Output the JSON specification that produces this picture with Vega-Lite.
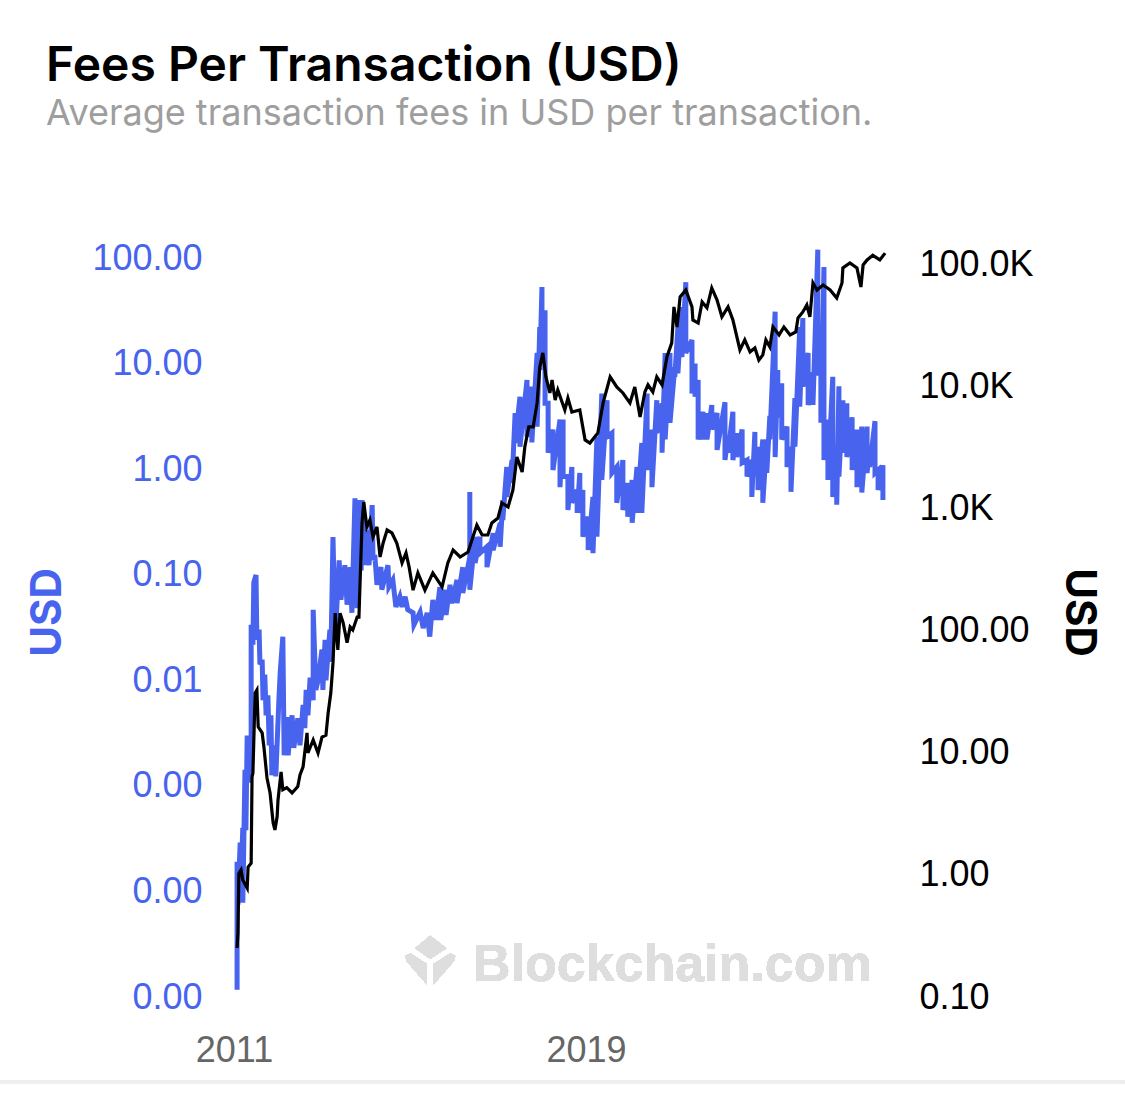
{"$schema":"https://vega.github.io/schema/vega-lite/v6.json","autosize":{"type":"none"},"padding":{"left":234,"top":248,"right":239,"bottom":116},"width":652,"height":749,"background":"white","view":{"stroke":null},
"title":{"text":"Fees Per Transaction (USD)","subtitle":"Average transaction fees in USD per transaction.","anchor":"start","frame":"group","dx":-188,"offset":108,"font":"Inter","fontSize":48,"fontWeight":600,"color":"#000000","subtitleFont":"Inter","subtitleFontSize":36,"subtitleColor":"#9e9e9e","subtitleFontWeight":400,"subtitlePadding":6},
"datasets":{
"fees":[{"year":2011.07,"usd":1.17e-5},{"year":2011.07,"usd":1.91e-4},{"year":2011.09,"usd":7.5e-5},{"year":2011.14,"usd":2.9e-4},{"year":2011.16,"usd":1.28e-4},{"year":2011.20,"usd":4.0e-4},{"year":2011.20,"usd":7.8e-5},{"year":2011.25,"usd":1.42e-3},{"year":2011.27,"usd":3.8e-4},{"year":2011.30,"usd":3.0e-3},{"year":2011.34,"usd":1.07e-3},{"year":2011.39,"usd":3.0e-3},{"year":2011.39,"usd":0.0336},{"year":2011.43,"usd":0.0217},{"year":2011.45,"usd":0.084},{"year":2011.50,"usd":0.0995},{"year":2011.52,"usd":0.0242},{"year":2011.57,"usd":0.0302},{"year":2011.59,"usd":0.0141},{"year":2011.64,"usd":0.0157},{"year":2011.66,"usd":0.00647},{"year":2011.70,"usd":0.0113},{"year":2011.73,"usd":0.00466},{"year":2011.77,"usd":0.00721},{"year":2011.80,"usd":0.00242},{"year":2011.84,"usd":0.00466},{"year":2011.86,"usd":0.00126},{"year":2011.91,"usd":0.00242},{"year":2011.95,"usd":0.00123},{"year":2012.02,"usd":0.00647},{"year":2012.05,"usd":0.0118},{"year":2012.11,"usd":0.0259},{"year":2012.14,"usd":0.00195},{"year":2012.20,"usd":0.00447},{"year":2012.23,"usd":0.00195},{"year":2012.32,"usd":0.00466},{"year":2012.36,"usd":0.00229},{"year":2012.45,"usd":0.00437},{"year":2012.50,"usd":0.00242},{"year":2012.57,"usd":0.00584},{"year":2012.61,"usd":0.00352},{"year":2012.64,"usd":0.00812},{"year":2012.68,"usd":0.00466},{"year":2012.73,"usd":0.0106},{"year":2012.80,"usd":0.00647},{"year":2012.80,"usd":0.0466},{"year":2012.86,"usd":0.00812},{"year":2012.91,"usd":0.01},{"year":2013.00,"usd":0.0195},{"year":2013.02,"usd":0.00812},{"year":2013.07,"usd":0.0242},{"year":2013.09,"usd":0.01},{"year":2013.18,"usd":0.0302},{"year":2013.20,"usd":0.0149},{"year":2013.25,"usd":0.227},{"year":2013.30,"usd":0.0242},{"year":2013.39,"usd":0.137},{"year":2013.43,"usd":0.058},{"year":2013.52,"usd":0.123},{"year":2013.57,"usd":0.052},{"year":2013.64,"usd":0.118},{"year":2013.68,"usd":0.0436},{"year":2013.75,"usd":0.53},{"year":2013.80,"usd":0.0483},{"year":2013.86,"usd":0.51},{"year":2013.89,"usd":0.11},{"year":2013.91,"usd":0.51},{"year":2013.98,"usd":0.123},{"year":2014.02,"usd":0.265},{"year":2014.07,"usd":0.123},{"year":2014.14,"usd":0.456},{"year":2014.16,"usd":0.137},{"year":2014.20,"usd":0.154},{"year":2014.25,"usd":0.0804},{"year":2014.34,"usd":0.118},{"year":2014.36,"usd":0.0721},{"year":2014.50,"usd":0.123},{"year":2014.52,"usd":0.0766},{"year":2014.61,"usd":0.0893},{"year":2014.68,"usd":0.0496},{"year":2014.77,"usd":0.062},{"year":2014.82,"usd":0.0496},{"year":2014.89,"usd":0.062},{"year":2014.95,"usd":0.0466},{"year":2015.07,"usd":0.0436},{"year":2015.09,"usd":0.0336},{"year":2015.23,"usd":0.0443},{"year":2015.30,"usd":0.0312},{"year":2015.39,"usd":0.0436},{"year":2015.45,"usd":0.0259},{"year":2015.52,"usd":0.0577},{"year":2015.59,"usd":0.0373},{"year":2015.68,"usd":0.0766},{"year":2015.70,"usd":0.0373},{"year":2015.80,"usd":0.0721},{"year":2015.82,"usd":0.0416},{"year":2015.91,"usd":0.0804},{"year":2015.95,"usd":0.0538},{"year":2016.07,"usd":0.0893},{"year":2016.07,"usd":0.0538},{"year":2016.20,"usd":0.118},{"year":2016.20,"usd":0.0672},{"year":2016.36,"usd":0.147},{"year":2016.36,"usd":0.608},{"year":2016.36,"usd":0.0721},{"year":2016.48,"usd":0.229},{"year":2016.48,"usd":0.129},{"year":2016.59,"usd":0.229},{"year":2016.59,"usd":0.16},{"year":2016.75,"usd":0.184},{"year":2016.75,"usd":0.118},{"year":2016.89,"usd":0.248},{"year":2016.89,"usd":0.171},{"year":2017.05,"usd":0.31},{"year":2017.05,"usd":0.184},{"year":2017.11,"usd":0.51},{"year":2017.11,"usd":0.33},{"year":2017.20,"usd":1.05},{"year":2017.20,"usd":0.545},{"year":2017.32,"usd":1.22},{"year":2017.32,"usd":0.74},{"year":2017.39,"usd":3.4},{"year":2017.39,"usd":1.77},{"year":2017.50,"usd":4.86},{"year":2017.50,"usd":1.63},{"year":2017.66,"usd":7.0},{"year":2017.66,"usd":2.03},{"year":2017.77,"usd":6.05},{"year":2017.77,"usd":1.79},{"year":2017.89,"usd":12.6},{"year":2017.89,"usd":2.53},{"year":2017.95,"usd":22.2},{"year":2017.95,"usd":8.7},{"year":2018.00,"usd":53},{"year":2018.00,"usd":12},{"year":2018.07,"usd":32},{"year":2018.07,"usd":4.2},{"year":2018.14,"usd":4.2},{"year":2018.14,"usd":1.43},{"year":2018.25,"usd":2.37},{"year":2018.25,"usd":0.98},{"year":2018.41,"usd":2.95},{"year":2018.41,"usd":0.675},{"year":2018.48,"usd":2.95},{"year":2018.48,"usd":0.85},{"year":2018.59,"usd":0.85},{"year":2018.59,"usd":0.41},{"year":2018.68,"usd":1.05},{"year":2018.68,"usd":0.48},{"year":2018.80,"usd":0.636},{"year":2018.80,"usd":0.385},{"year":2018.86,"usd":0.92},{"year":2018.86,"usd":0.385},{"year":2018.93,"usd":0.636},{"year":2018.93,"usd":0.229},{"year":2019.05,"usd":0.354},{"year":2019.05,"usd":0.171},{"year":2019.16,"usd":0.545},{"year":2019.16,"usd":0.16},{"year":2019.25,"usd":2.03},{"year":2019.25,"usd":0.229},{"year":2019.36,"usd":5.2},{"year":2019.36,"usd":0.79},{"year":2019.48,"usd":4.5},{"year":2019.48,"usd":2.03},{"year":2019.59,"usd":2.2},{"year":2019.59,"usd":0.92},{"year":2019.70,"usd":1.05},{"year":2019.70,"usd":0.48},{"year":2019.84,"usd":1.22},{"year":2019.84,"usd":0.41},{"year":2019.95,"usd":0.74},{"year":2019.95,"usd":0.354},{"year":2020.05,"usd":0.79},{"year":2020.05,"usd":0.31},{"year":2020.16,"usd":1.05},{"year":2020.16,"usd":0.385},{"year":2020.27,"usd":1.77},{"year":2020.27,"usd":0.385},{"year":2020.39,"usd":5.2},{"year":2020.39,"usd":0.98},{"year":2020.50,"usd":2.37},{"year":2020.50,"usd":0.675},{"year":2020.61,"usd":4.5},{"year":2020.61,"usd":2.2},{"year":2020.73,"usd":4.2},{"year":2020.73,"usd":1.43},{"year":2020.80,"usd":12.6},{"year":2020.80,"usd":1.91},{"year":2020.91,"usd":12.6},{"year":2020.91,"usd":2.75},{"year":2021.02,"usd":9.3},{"year":2021.02,"usd":7.5},{"year":2021.09,"usd":22.2},{"year":2021.09,"usd":8.1},{"year":2021.18,"usd":34.3},{"year":2021.18,"usd":11.5},{"year":2021.27,"usd":59},{"year":2021.27,"usd":12.6},{"year":2021.41,"usd":16.7},{"year":2021.41,"usd":5.2},{"year":2021.48,"usd":10},{"year":2021.48,"usd":4.86},{"year":2021.55,"usd":7.0},{"year":2021.55,"usd":1.91},{"year":2021.66,"usd":3.5},{"year":2021.66,"usd":1.91},{"year":2021.75,"usd":3.4},{"year":2021.75,"usd":1.91},{"year":2021.86,"usd":4.05},{"year":2021.86,"usd":2.37},{"year":2021.98,"usd":3.4},{"year":2021.98,"usd":1.52},{"year":2022.16,"usd":4.3},{"year":2022.16,"usd":1.22},{"year":2022.23,"usd":2.03},{"year":2022.23,"usd":1.43},{"year":2022.34,"usd":3.5},{"year":2022.34,"usd":1.22},{"year":2022.43,"usd":2.2},{"year":2022.43,"usd":1.3},{"year":2022.55,"usd":2.37},{"year":2022.55,"usd":1.15},{"year":2022.66,"usd":1.22},{"year":2022.66,"usd":0.85},{"year":2022.77,"usd":1.22},{"year":2022.77,"usd":0.545},{"year":2022.84,"usd":2.25},{"year":2022.84,"usd":0.85},{"year":2022.91,"usd":1.63},{"year":2022.91,"usd":0.636},{"year":2023.02,"usd":1.91},{"year":2023.02,"usd":0.48},{"year":2023.11,"usd":1.91},{"year":2023.11,"usd":0.92},{"year":2023.18,"usd":3.2},{"year":2023.18,"usd":1.91},{"year":2023.30,"usd":31},{"year":2023.30,"usd":1.3},{"year":2023.36,"usd":8.7},{"year":2023.36,"usd":3.1},{"year":2023.45,"usd":6.5},{"year":2023.45,"usd":1.91},{"year":2023.57,"usd":2.53},{"year":2023.57,"usd":1.05},{"year":2023.66,"usd":1.63},{"year":2023.66,"usd":0.61},{"year":2023.75,"usd":4.7},{"year":2023.75,"usd":1.63},{"year":2023.86,"usd":22.2},{"year":2023.86,"usd":3.9},{"year":2023.93,"usd":27},{"year":2023.93,"usd":6.05},{"year":2024.05,"usd":12.6},{"year":2024.05,"usd":4.05},{"year":2024.16,"usd":8.3},{"year":2024.16,"usd":4.05},{"year":2024.27,"usd":120},{"year":2024.27,"usd":8.1},{"year":2024.34,"usd":8.1},{"year":2024.34,"usd":2.75},{"year":2024.41,"usd":82},{"year":2024.41,"usd":1.22},{"year":2024.50,"usd":2.95},{"year":2024.50,"usd":0.79},{"year":2024.61,"usd":7.5},{"year":2024.61,"usd":0.545},{"year":2024.70,"usd":1.63},{"year":2024.70,"usd":0.46},{"year":2024.75,"usd":6.1},{"year":2024.75,"usd":0.85},{"year":2024.84,"usd":4.5},{"year":2024.84,"usd":1.43},{"year":2024.93,"usd":4.2},{"year":2024.93,"usd":1.3},{"year":2025.05,"usd":3.1},{"year":2025.05,"usd":0.98},{"year":2025.16,"usd":2.37},{"year":2025.16,"usd":0.675},{"year":2025.27,"usd":2.53},{"year":2025.27,"usd":0.6},{"year":2025.39,"usd":2.53},{"year":2025.39,"usd":0.92},{"year":2025.45,"usd":1.63},{"year":2025.45,"usd":1.05},{"year":2025.57,"usd":2.85},{"year":2025.57,"usd":0.92},{"year":2025.64,"usd":0.98},{"year":2025.64,"usd":0.636},{"year":2025.75,"usd":1.09},{"year":2025.75,"usd":0.51}],
"price":[{"year":2011.07,"usd":0.252},{"year":2011.09,"usd":0.335},{"year":2011.11,"usd":1.03},{"year":2011.16,"usd":1.10},{"year":2011.20,"usd":0.91},{"year":2011.30,"usd":0.78},{"year":2011.32,"usd":1.16},{"year":2011.39,"usd":1.25},{"year":2011.41,"usd":6.36},{"year":2011.43,"usd":6.86},{"year":2011.48,"usd":31},{"year":2011.52,"usd":32.8},{"year":2011.55,"usd":16.4},{"year":2011.64,"usd":14.6},{"year":2011.68,"usd":11.2},{"year":2011.75,"usd":6.24},{"year":2011.82,"usd":4.7},{"year":2011.89,"usd":2.67},{"year":2011.93,"usd":2.34},{"year":2011.98,"usd":3.0},{"year":2012.00,"usd":4.1},{"year":2012.07,"usd":7.0},{"year":2012.11,"usd":5.0},{"year":2012.20,"usd":5.2},{"year":2012.32,"usd":4.7},{"year":2012.45,"usd":5.3},{"year":2012.50,"usd":6.6},{"year":2012.57,"usd":7.7},{"year":2012.66,"usd":14.6},{"year":2012.68,"usd":10},{"year":2012.80,"usd":12.8},{"year":2012.91,"usd":10},{"year":2013.00,"usd":13.5},{"year":2013.09,"usd":14},{"year":2013.14,"usd":21.3},{"year":2013.20,"usd":31},{"year":2013.25,"usd":54.7},{"year":2013.30,"usd":140},{"year":2013.36,"usd":70},{"year":2013.41,"usd":140},{"year":2013.48,"usd":117},{"year":2013.57,"usd":80},{"year":2013.64,"usd":108},{"year":2013.70,"usd":102},{"year":2013.80,"usd":130},{"year":2013.84,"usd":130},{"year":2013.86,"usd":216},{"year":2013.91,"usd":768},{"year":2013.95,"usd":1140},{"year":2014.02,"usd":712},{"year":2014.09,"usd":813},{"year":2014.16,"usd":590},{"year":2014.25,"usd":712},{"year":2014.32,"usd":404},{"year":2014.39,"usd":526},{"year":2014.48,"usd":673},{"year":2014.59,"usd":636},{"year":2014.70,"usd":526},{"year":2014.82,"usd":361},{"year":2014.91,"usd":436},{"year":2014.98,"usd":335},{"year":2015.07,"usd":216},{"year":2015.18,"usd":299},{"year":2015.34,"usd":216},{"year":2015.52,"usd":299},{"year":2015.73,"usd":230},{"year":2015.86,"usd":361},{"year":2015.98,"usd":461},{"year":2016.14,"usd":404},{"year":2016.32,"usd":444},{"year":2016.43,"usd":590},{"year":2016.52,"usd":739},{"year":2016.64,"usd":612},{"year":2016.77,"usd":612},{"year":2016.86,"usd":768},{"year":2017.00,"usd":843},{"year":2017.09,"usd":1120},{"year":2017.23,"usd":1040},{"year":2017.34,"usd":1430},{"year":2017.43,"usd":2670},{"year":2017.55,"usd":2010},{"year":2017.61,"usd":3220},{"year":2017.70,"usd":4700},{"year":2017.80,"usd":4700},{"year":2017.89,"usd":7400},{"year":2017.95,"usd":14600},{"year":2018.02,"usd":19000},{"year":2018.09,"usd":12100},{"year":2018.18,"usd":8930},{"year":2018.23,"usd":11400},{"year":2018.30,"usd":7800},{"year":2018.36,"usd":9450},{"year":2018.52,"usd":6480},{"year":2018.59,"usd":8100},{"year":2018.68,"usd":6240},{"year":2018.86,"usd":6480},{"year":2018.98,"usd":3680},{"year":2019.09,"usd":3470},{"year":2019.27,"usd":4200},{"year":2019.39,"usd":7400},{"year":2019.55,"usd":12100},{"year":2019.70,"usd":10000},{"year":2019.84,"usd":8930},{"year":2020.00,"usd":7400},{"year":2020.11,"usd":10000},{"year":2020.23,"usd":5680},{"year":2020.34,"usd":9100},{"year":2020.41,"usd":10400},{"year":2020.52,"usd":9100},{"year":2020.61,"usd":12100},{"year":2020.73,"usd":10400},{"year":2020.84,"usd":17600},{"year":2020.95,"usd":23000},{"year":2021.00,"usd":45300},{"year":2021.07,"usd":31000},{"year":2021.14,"usd":54700},{"year":2021.27,"usd":62400},{"year":2021.41,"usd":45300},{"year":2021.43,"usd":35400},{"year":2021.55,"usd":33400},{"year":2021.64,"usd":49800},{"year":2021.75,"usd":44500},{"year":2021.86,"usd":64800},{"year":2021.98,"usd":51600},{"year":2022.09,"usd":37500},{"year":2022.23,"usd":45300},{"year":2022.34,"usd":35400},{"year":2022.50,"usd":20100},{"year":2022.61,"usd":24300},{"year":2022.73,"usd":19400},{"year":2022.84,"usd":20900},{"year":2022.93,"usd":16600},{"year":2023.02,"usd":18300},{"year":2023.09,"usd":24300},{"year":2023.18,"usd":21300},{"year":2023.25,"usd":31000},{"year":2023.39,"usd":26700},{"year":2023.50,"usd":31000},{"year":2023.64,"usd":26700},{"year":2023.77,"usd":28200},{"year":2023.82,"usd":36800},{"year":2023.93,"usd":41200},{"year":2024.02,"usd":47000},{"year":2024.09,"usd":37500},{"year":2024.16,"usd":71200},{"year":2024.25,"usd":62400},{"year":2024.39,"usd":68600},{"year":2024.55,"usd":62400},{"year":2024.70,"usd":53600},{"year":2024.82,"usd":71200},{"year":2024.84,"usd":94500},{"year":2025.00,"usd":104000},{"year":2025.16,"usd":94500},{"year":2025.25,"usd":66000},{"year":2025.30,"usd":100000},{"year":2025.39,"usd":110000},{"year":2025.52,"usd":120000},{"year":2025.68,"usd":110000},{"year":2025.80,"usd":125000}]
},
"layer":[
{"data":{"name":"fees"},
"layer":[
{"mark":{"type":"rule","stroke":"#eeeeee","strokeWidth":3},"encoding":{"x":{"datum":2005.68,"type":"quantitative"},"x2":{"datum":2031.25},"y":{"datum":1.574e-6,"type":"quantitative"}}},
{"mark":{"type":"text","text":"Blockchain.com","align":"left","baseline":"alphabetic","font":"Liberation Sans","fontWeight":"bold","fontSize":52,"fill":"#dedede"},"encoding":{"x":{"datum":2016.43,"type":"quantitative"},"y":{"datum":1.42e-5,"type":"quantitative"}}},
{"mark":{"type":"point","filled":true,"fill":"#dedede","opacity":1,"size":2500,"shape":"M0,-1L.65,-.5L0,-.07L-.6,-.5ZM-1,-.2L-.8,-.3L-.13,.13L-.13,.95L-.95,0ZM1,-.2L.8,-.3L.13,.13L.13,.95L.95,0Z"},"encoding":{"x":{"datum":2015.46,"type":"quantitative"},"y":{"datum":2.2e-5,"type":"quantitative"}}},
{"mark":{"type":"line","stroke":"#4863ee","strokeWidth":5,"strokeJoin":"miter"},"encoding":{"order":{"value":null},
"x":{"field":"year","type":"quantitative","scale":{"domain":[2011,2025.82],"nice":false,"zero":false},"axis":{"values":[2011,2019],"format":"d","grid":false,"ticks":false,"domain":false,"title":null,"labelFont":"Liberation Sans","labelFontSize":36,"labelColor":"#666666","labelPadding":36,"labelFlush":false}},
"y":{"field":"usd","type":"quantitative","scale":{"type":"log","domain":[0.00001,124.4],"nice":false},"axis":{"values":[0.00001,0.0001,0.001,0.01,0.1,1,10,100],"format":".2f","grid":false,"ticks":false,"domain":false,"title":"USD","titleColor":"#4863ee","titleFont":"Inter","titleFontSize":42,"titleFontWeight":700,"titleX":-187,"titleY":364,"titleBaseline":"middle","titleAlign":"center","labelFont":"Liberation Sans","labelFontSize":36,"labelColor":"#4863ee","labelPadding":32}}}}
]},
{"data":{"name":"price"},
"mark":{"type":"line","stroke":"#000000","strokeWidth":3.2},"encoding":{
"x":{"field":"year","type":"quantitative"},
"y":{"field":"usd","type":"quantitative","scale":{"type":"log","domain":[0.1,137700],"nice":false},"axis":{"orient":"right","values":[0.1,1,10,100,1000,10000,100000],"labelExpr":"datum.value>=1000?format(datum.value/1000,'.1f')+'K':format(datum.value,'.2f')","grid":false,"ticks":false,"domain":false,"title":"USD","titleColor":"#000000","titleFont":"Inter","titleFontSize":42,"titleFontWeight":700,"titleX":192,"titleY":364,"titleBaseline":"middle","titleAlign":"center","labelFont":"Liberation Sans","labelFontSize":36,"labelColor":"#000000","labelPadding":33}}}}
],
"resolve":{"scale":{"y":"independent"}}}
